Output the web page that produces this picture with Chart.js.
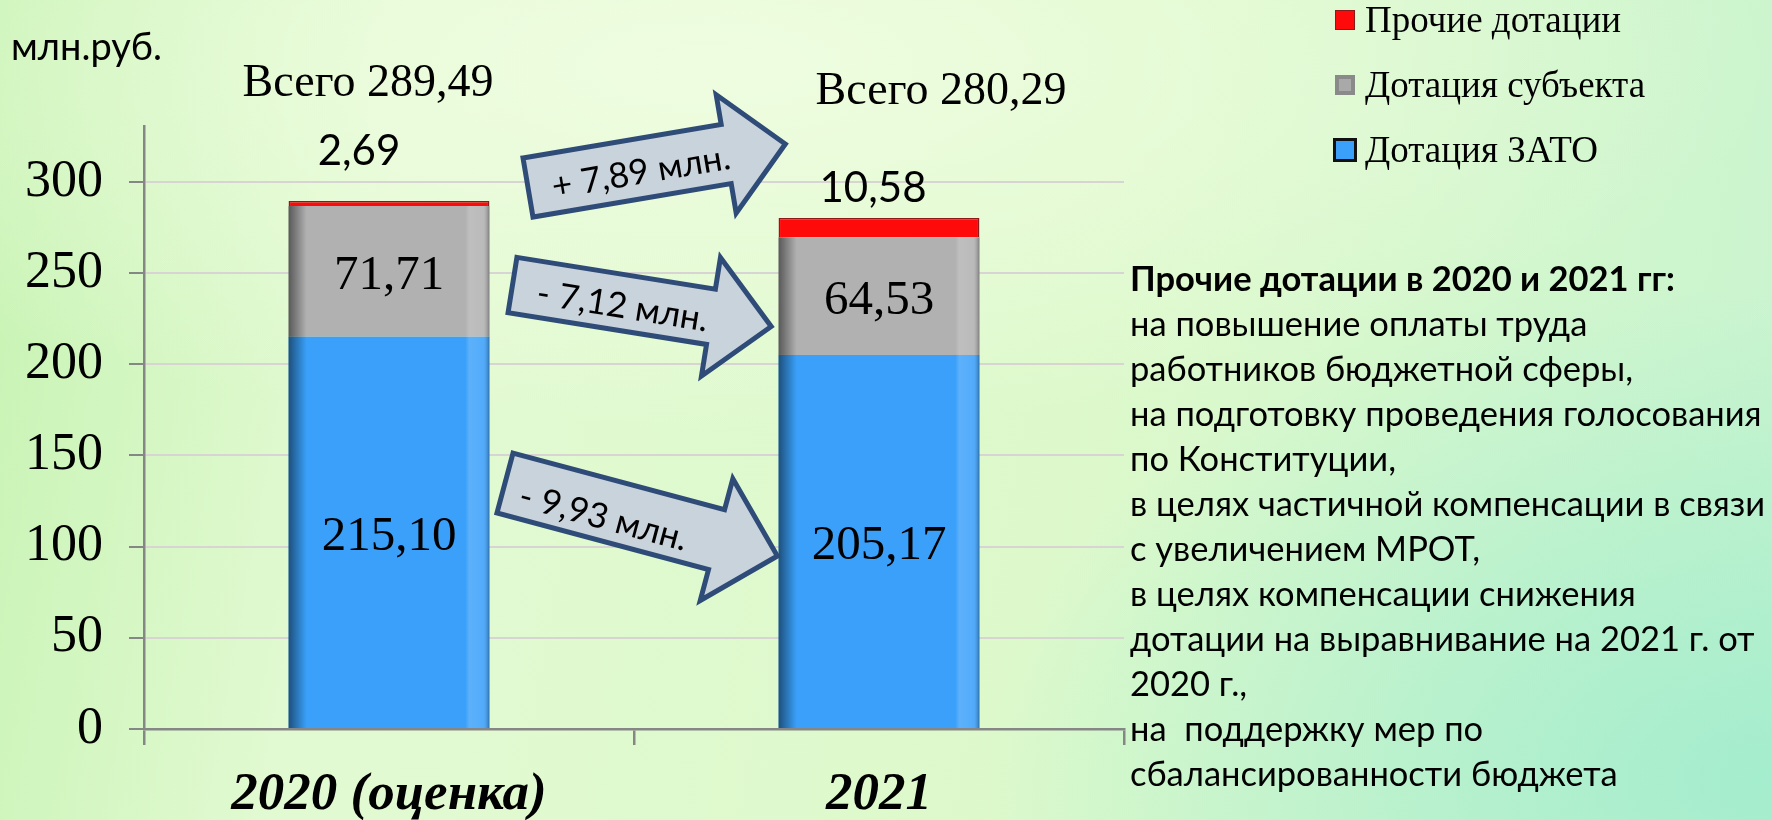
<!DOCTYPE html>
<html lang="ru">
<head>
<meta charset="UTF-8">
<title>Дотации</title>
<script src="https://cdn.jsdelivr.net/npm/chart.js"></script>
<style>
    html, body { margin: 0; padding: 0; }
    body {
        width: 1772px; height: 820px; overflow: hidden; position: relative;
        font-family: Lato, "Open Sans", sans-serif;
        background:
            radial-gradient(ellipse 60% 45% at 40% 8%, rgba(240,253,226,0.9) 0%, rgba(240,253,226,0) 100%),
            radial-gradient(ellipse 45% 60% at 100% 95%, rgba(160,236,205,0.9) 0%, rgba(160,236,205,0) 100%),
            linear-gradient(100deg, #c6f3b2 0%, #e2fad2 22%, #ddf9cb 60%, #c8f4cf 100%);
    }
    #wrap { position: absolute; left: 0; top: 0; width: 1772px; height: 820px; }
    .unit { position: absolute; left: 11px; top: 22px; font-size: 38px; color: #000; }
    .note { position: absolute; left: 1130px; top: 255px; font-size: 34.5px; line-height: 45px; color: #000; white-space: nowrap; }
    .note b { font-weight: 700; }
</style>
</head>
<body>
<div id="wrap"><canvas id="chart" width="1772" height="820"></canvas></div>
<div class="unit">млн.руб.</div>
<div class="note" id="note"></div>

<script>
    // data
    const categories = ['2020 (оценка)', '2021'];
    const seriesNames = ['Дотация ЗАТО', 'Дотация субъекта', 'Прочие дотации'];
    const zatoValues = [215.10, 205.17];
    const subjectValues = [71.71, 64.53];
    const otherValues = [2.69, 10.58];
    const totals = [289.49, 280.29];
    const yTicks = [0, 50, 100, 150, 200, 250, 300];
    const changeLabels = ['+ 7,89 млн.', '- 7,12 млн.', '- 9,93 млн.'];
    const noteTitle = 'Прочие дотации в 2020 и 2021 гг:';
    const noteLines = [
        'на повышение оплаты труда',
        'работников бюджетной сферы,',
        'на подготовку проведения голосования',
        'по Конституции,',
        'в целях частичной компенсации в связи',
        'с увеличением МРОТ,',
        'в целях компенсации снижения',
        'дотации на выравнивание на 2021 г. от',
        '2020 г.,',
        'на  поддержку мер по',
        'сбалансированности бюджета'
    ];

    const colors = ['#3AA0FA', '#B1B1B1', '#FF0A0A'];
    const serif = '"Liberation Serif", "Times New Roman", serif';
    const sans = 'Lato, "Open Sans", sans-serif';

    function fmt(v) { return v.toFixed(2).replace('.', ','); }

    const note = document.getElementById('note');
    note.innerHTML = '<b>' + noteTitle + '</b><br>' + noteLines.map(s => s.replace(/  /g, ' &nbsp;')).join('<br>');

    // arrows between the bars (pixel layout)
    const arrows = [
        { x: 528, y: 187.5, angle: -9.6, len: 261, shaft: 30, head: 60, headLen: 60, tx: 114, ty: 4 },
        { x: 512.5, y: 285, angle: 9.1, len: 262, shaft: 28, head: 60, headLen: 61, tx: 112, ty: 4 },
        { x: 505, y: 483, angle: 15, len: 282, shaft: 31, head: 63, headLen: 63, tx: 104, ty: 8 }
    ];
    const topLabelShift = [{ dx: -30, dy: 36 }, { dx: -6, dy: 16 }];
    const totalShift = [{ dx: -21, y: 96 }, { dx: 62, y: 104 }];

    function drawArrow(ctx, a, text) {
        ctx.save();
        ctx.translate(a.x, a.y);
        ctx.rotate(a.angle * Math.PI / 180);
        const b = a.len - a.headLen;
        ctx.beginPath();
        ctx.moveTo(0, -a.shaft);
        ctx.lineTo(b, -a.shaft);
        ctx.lineTo(b, -a.head);
        ctx.lineTo(a.len, 0);
        ctx.lineTo(b, a.head);
        ctx.lineTo(b, a.shaft);
        ctx.lineTo(0, a.shaft);
        ctx.closePath();
        ctx.fillStyle = '#C9D3DC';
        ctx.fill();
        ctx.lineWidth = 5;
        ctx.lineJoin = 'miter';
        ctx.strokeStyle = '#2F4C78';
        ctx.stroke();
        ctx.font = '35px ' + sans;
        ctx.fillStyle = '#000';
        ctx.textAlign = 'center';
        ctx.textBaseline = 'middle';
        ctx.fillText(text, a.tx, a.ty);
        ctx.restore();
    }

    const decorations = {
        id: 'decorations',
        afterDatasetsDraw(chart) {
            const ctx = chart.ctx;
            ctx.save();
            // 3d-ish shading on blue and gray bars
            [0, 1].forEach(di => {
                chart.getDatasetMeta(di).data.forEach(bar => {
                    const left = bar.x - bar.width / 2;
                    const g = ctx.createLinearGradient(left, 0, left + bar.width, 0);
                    g.addColorStop(0, 'rgba(0,0,0,0.5)');
                    g.addColorStop(0.09, 'rgba(0,0,0,0)');
                    g.addColorStop(0.88, 'rgba(255,255,255,0)');
                    g.addColorStop(0.9, 'rgba(255,255,255,0.18)');
                    g.addColorStop(0.97, 'rgba(255,255,255,0.12)');
                    g.addColorStop(1, 'rgba(0,0,0,0.3)');
                    ctx.fillStyle = g;
                    ctx.fillRect(left, bar.y, bar.width, bar.base - bar.y);
                });
            });
            // values inside segments
            ctx.font = '49px ' + serif;
            ctx.fillStyle = '#000';
            ctx.textAlign = 'center';
            ctx.textBaseline = 'middle';
            [0, 1].forEach(di => {
                chart.getDatasetMeta(di).data.forEach((bar, i) => {
                    ctx.fillText(fmt(chart.data.datasets[di].data[i]), bar.x, (bar.y + bar.base) / 2 + 5);
                });
            });
            // values above the red segments
            ctx.font = '42px ' + sans;
            ctx.textBaseline = 'alphabetic';
            chart.getDatasetMeta(2).data.forEach((bar, i) => {
                ctx.fillText(fmt(chart.data.datasets[2].data[i]), bar.x + topLabelShift[i].dx, bar.y - topLabelShift[i].dy);
            });
            // totals
            ctx.font = '46px ' + serif;
            chart.getDatasetMeta(2).data.forEach((bar, i) => {
                ctx.fillText('Всего ' + fmt(totals[i]), bar.x + totalShift[i].dx, totalShift[i].y);
            });
            ctx.restore();
            arrows.forEach((a, i) => drawArrow(ctx, a, changeLabels[i]));
        },
        afterDraw(chart) {
            // legend, reversed order like the original
            const ctx = chart.ctx;
            ctx.save();
            const rows = [
                { di: 2, y: 20 },
                { di: 1, y: 85 },
                { di: 0, y: 150 }
            ];
            rows.forEach(r => {
                const ds = chart.data.datasets[r.di];
                if (r.di === 0) {
                    ctx.fillStyle = '#111';
                    ctx.fillRect(1333, r.y - 12, 24, 24);
                    ctx.fillStyle = ds.backgroundColor;
                    ctx.fillRect(1336, r.y - 9, 18, 18);
                } else if (r.di === 1) {
                    ctx.fillStyle = '#8a8a8a';
                    ctx.fillRect(1335, r.y - 10, 20, 20);
                    ctx.fillStyle = '#a9a9a9';
                    ctx.fillRect(1339, r.y - 6, 12, 12);
                } else {
                    ctx.fillStyle = '#8B1A1A';
                    ctx.fillRect(1335, r.y - 10, 20, 20);
                    ctx.fillStyle = ds.backgroundColor;
                    ctx.fillRect(1336, r.y - 9, 18, 18);
                }
                ctx.font = '37px ' + serif;
                ctx.fillStyle = '#000';
                ctx.textAlign = 'left';
                ctx.textBaseline = 'middle';
                ctx.fillText(ds.label, 1365, r.y + 2);
            });
            ctx.restore();
        }
    };

    new Chart(document.getElementById('chart'), {
        type: 'bar',
        data: {
            labels: categories,
            datasets: [
                { label: seriesNames[0], data: zatoValues, backgroundColor: colors[0], borderWidth: 0 },
                { label: seriesNames[1], data: subjectValues, backgroundColor: colors[1], borderWidth: 0 },
                { label: seriesNames[2], data: otherValues, backgroundColor: colors[2], borderColor: '#8B1A1A', borderWidth: 1.5 }
            ]
        },
        options: {
            responsive: false,
            animation: false,
            layout: { padding: { top: 126, right: 648, left: 0, bottom: 0 } },
            datasets: { bar: { barPercentage: 0.41, categoryPercentage: 1 } },
            plugins: { legend: { display: false }, tooltip: { enabled: false } },
            scales: {
                x: {
                    stacked: true,
                    afterFit: s => { s.height = 91; },
                    grid: { drawOnChartArea: false, drawTicks: true, tickLength: 16, color: '#868686', lineWidth: 2.5 },
                    border: { color: '#868686', width: 2.5 },
                    ticks: { color: '#000', padding: 19, font: { family: serif, size: 53, style: 'italic', weight: 'bold' } }
                },
                y: {
                    stacked: true,
                    min: 0,
                    max: 330.7,
                    afterFit: s => { s.width = 144; },
                    afterBuildTicks: s => { s.ticks = yTicks.map(v => ({ value: v })); },
                    grid: { color: '#D8D4D4', lineWidth: 2, tickLength: 15, tickColor: '#868686' },
                    border: { color: '#868686', width: 2.5 },
                    ticks: { color: '#000', padding: 26, font: { family: serif, size: 52 } }
                }
            }
        },
        plugins: [decorations]
    });
</script>
</body>
</html>
